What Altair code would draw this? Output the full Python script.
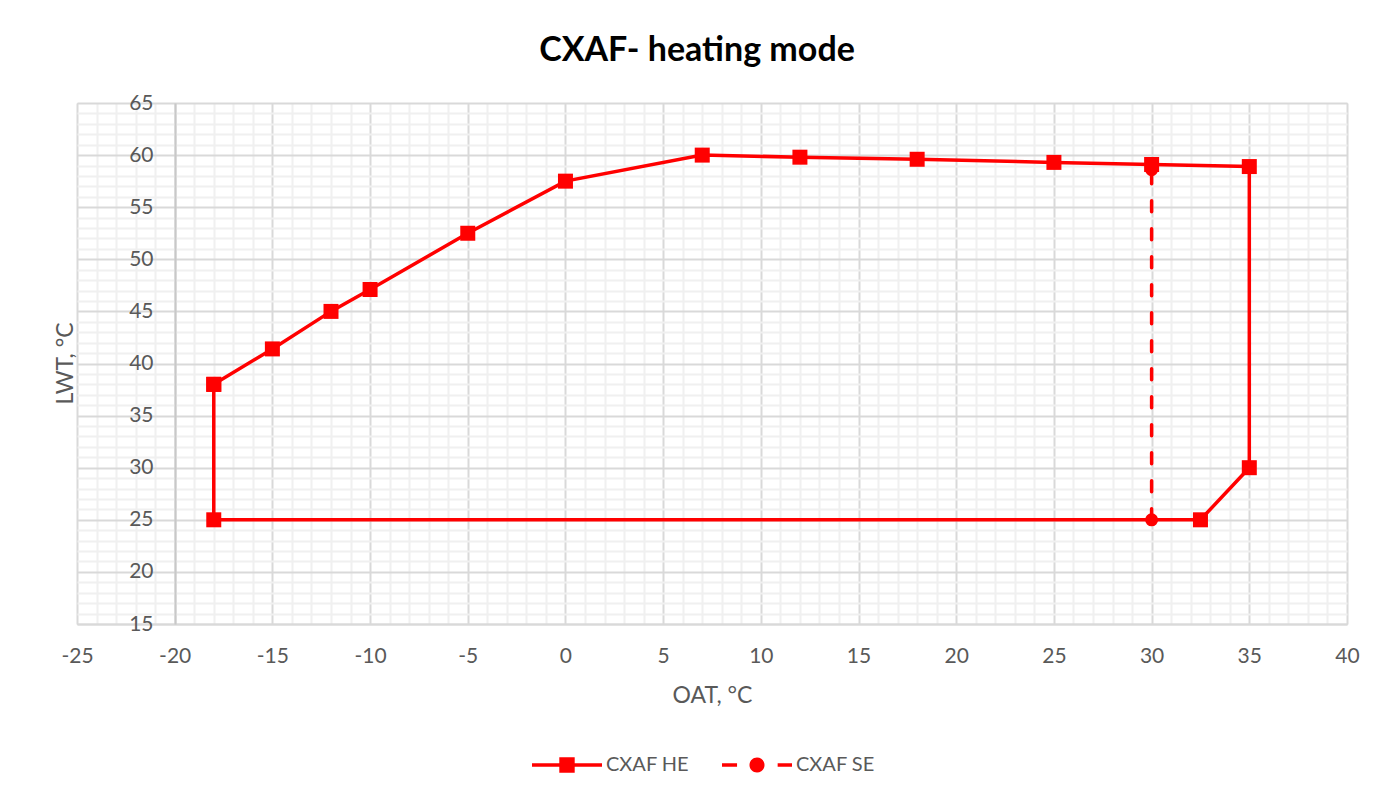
import altair as alt
import pandas as pd

# ---- data ----
he_oat = [-18, -15, -12, -10, -5, 0, 7, 12, 18, 25, 30, 35, 35, 32.5, -18, -18]
he_lwt = [38, 41.4, 45, 47.1, 52.5, 57.5, 60, 59.8, 59.6, 59.3, 59.1, 58.9, 30, 25, 25, 38]
se_oat = [30, 30]
se_lwt = [25, 58.6]
series_names = ["CXAF HE", "CXAF SE"]
x_ticks = list(range(-25, 41))
y_ticks = list(range(15, 66))

he = pd.DataFrame({"oat": he_oat, "lwt": he_lwt, "i": list(range(len(he_oat))), "series": series_names[0]})
se = pd.DataFrame({"oat": se_oat, "lwt": se_lwt, "i": list(range(len(se_oat))), "series": series_names[1]})

RED = "#FF0000"
FONT = "Lato"
TXT = "#595959"
grid_cond = {"condition": {"test": "datum.value % 5 === 0", "value": "#d9d9d9"}, "value": "#f0f0f0"}
label_expr = "datum.value % 5 === 0 ? '' + datum.value : ''"

x_enc = alt.X(
    "oat:Q",
    scale=alt.Scale(domain=[-25, 40], nice=False, zero=False),
    axis=alt.Axis(
        title="OAT, °C", values=x_ticks, tickCount=200, labelExpr=label_expr, gridColor=grid_cond,
        gridWidth=2, ticks=False, labelFlush=False, labelOverlap=False, labelBound=False,
        labelPadding=21, labelFontSize=21, labelColor=TXT, labelFont=FONT,
        titleFontSize=23, titleColor=TXT, titleFont=FONT, titleFontWeight="normal",
        titlePadding=18, domainColor="#d9d9d9", domainWidth=2,
    ),
)
y_enc = alt.Y(
    "lwt:Q",
    scale=alt.Scale(domain=[15, 65], nice=False, zero=False),
    axis=alt.Axis(
        title="LWT, °C", values=y_ticks, tickCount=200, labelExpr=label_expr, gridColor=grid_cond,
        gridWidth=2, ticks=False, labelOverlap=False, labelBound=False,
        labelPadding=22, labelFontSize=21, labelColor=TXT, labelFont=FONT,
        titleFontSize=23, titleColor=TXT, titleFont=FONT, titleFontWeight="normal",
        titleX=-103, titleY=260, titleBaseline="alphabetic", titleAngle=-90,
        offset=-98, domainColor="#c8c8c8", domainWidth=2,
    ),
)

he_line = alt.Chart(he).mark_line(color=RED, strokeWidth=3.5).encode(x=x_enc, y=y_enc, order="i:Q")
se_line = alt.Chart(se).mark_line(color=RED, strokeWidth=3.5, strokeDash=[11, 17], strokeCap="round").encode(
    x="oat:Q", y="lwt:Q", order="i:Q")
he_pts = alt.Chart(he).mark_square(color=RED, size=225, opacity=1).encode(x="oat:Q", y="lwt:Q")
se_pts = alt.Chart(se).mark_circle(color=RED, size=170, opacity=1).encode(x="oat:Q", y="lwt:Q")

# legend glyphs drawn as filled outlines (line + marker) in unit symbol space
HE_PATH = "M-1,-0.05H1V0.05H-1ZM-0.22,-0.22H0.22V0.22H-0.22Z"
SE_PATH = ("M-1,-0.05H-0.57V0.05H-1ZM0.59,-0.05H1V0.05H0.59Z"
           "M-0.215,0A0.215,0.215 0 1,1 0.215,0A0.215,0.215 0 1,1 -0.215,0Z")

legend_layer = alt.Chart(pd.DataFrame({"series": series_names})).mark_point(
    filled=True, color=RED, opacity=1
).encode(
    shape=alt.Shape(
        "series:N",
        scale=alt.Scale(domain=series_names, range=[HE_PATH, SE_PATH]),
        legend=alt.Legend(
            title=None, orient="none", legendX=455, legendY=627, direction="horizontal",
            symbolSize=4900, symbolStrokeWidth=0, symbolFillColor=RED,
            symbolOpacity=1, labelFontSize=20, labelColor=TXT, labelFont=FONT,
            columnPadding=32, labelOffset=4,
        ),
    )
).transform_filter("false")

chart = alt.layer(he_line, se_line, he_pts, se_pts, legend_layer).properties(
    width=1270,
    height=521,
    title=alt.TitleParams("CXAF- heating mode", fontSize=34, font=FONT, fontWeight="bold",
                          color="black", anchor="middle", dx=-15, offset=24),
    autosize=alt.AutoSizeParams(type="none"),
    padding={"left": 69, "top": 95, "right": 37, "bottom": 169},
).configure_view(stroke=None).configure(background="white")

chart.save("out.html", embed_options={"renderer": "svg", "actions": False})
